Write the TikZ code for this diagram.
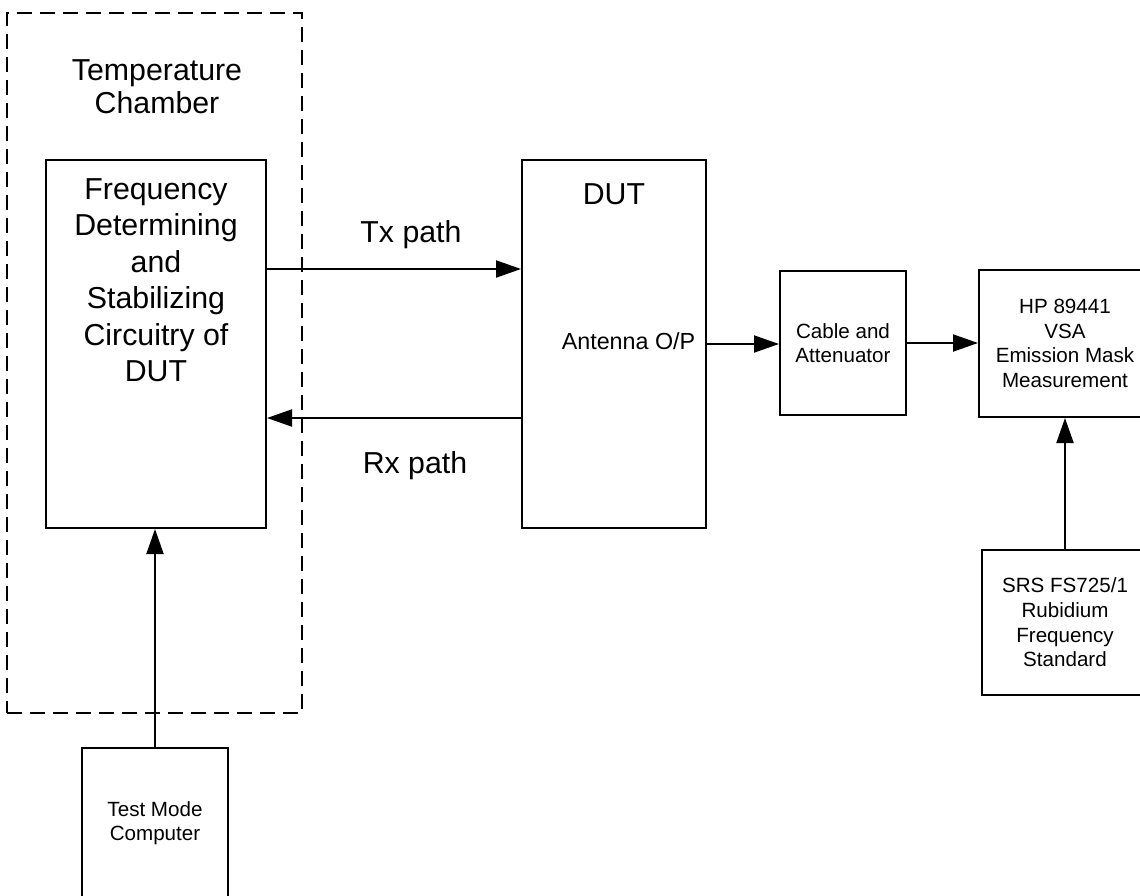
\documentclass[tikz,border=0pt]{standalone}
\usepackage{fontspec}
\setmainfont{Liberation Sans}
\usetikzlibrary{arrows.meta,positioning}

\begin{document}
\begin{tikzpicture}[x=1pt,y=-1pt,
		blk/.style={draw,line width=2pt,rectangle,inner sep=0pt},
		chamberbox/.style={draw,line width=2pt,rectangle,inner sep=0pt,dash pattern=on 15pt off 8pt},
		sig/.style={line width=2pt,-{Triangle[length=25pt,width=17pt]}},
		bigtxt/.style={inner sep=0pt,align=center,font=\fontsize{30.3}{36.5}\selectfont},
		midtxt/.style={inner sep=0pt,align=center,font=\fontsize{23.3}{28}\selectfont},
		smalltxt/.style={inner sep=0pt,align=center,font=\fontsize{20.6}{24.7}\selectfont}]
		\useasboundingbox (0,0) rectangle (1140,895);
		%
		\node[chamberbox,minimum width=295pt,minimum height=700pt] (chamber) at (154.5,363) {};
		\node[bigtxt,anchor=north,font=\fontsize{30.3}{33}\selectfont] (chambertxt) at (157,59) {Temperature\\Chamber};
		\node[blk,minimum width=220pt,minimum height=368pt] (freq) at (156,344) {};
		\node[bigtxt,anchor=north] (freqtxt) at (156,178) {Frequency\\Determining\\and\\Stabilizing\\Circuitry of\\DUT};
		\node[blk,minimum width=184pt,minimum height=368pt] (dut) at (614,344) {};
		\node[bigtxt,anchor=base] (duttxt) at (614,204) {DUT};
		\node[midtxt,anchor=base] (anttxt) at (628.5,349) {Antenna O/P};
		\node[blk,minimum width=126pt,minimum height=144pt,smalltxt] (cable) at (843,343) {Cable and\\Attenuator};
		\node[blk,minimum width=172pt,minimum height=147pt,smalltxt] (hp) at (1065,343.5) {HP 89441\\VSA\\Emission Mask\\Measurement};
		\node[blk,minimum width=166pt,minimum height=145pt,smalltxt] (srs) at (1065,622.5) {SRS FS725/1\\Rubidium\\Frequency\\Standard};
		\node[blk,minimum width=146pt,minimum height=182pt] (test) at (155,839) {};
		\node[smalltxt,anchor=north] (testtxt) at (155,801) {Test Mode\\Computer};
		\node[bigtxt,anchor=base] (txtxt) at (411,242) {Tx path};
		\node[bigtxt,anchor=base] (rxtxt) at (415,473) {Rx path};
		%
		\draw[sig] ([yshift=75pt]freq.east) -- ([yshift=75pt]dut.west);
		\draw[sig] ([yshift=-74pt]dut.west) -- ([yshift=-74pt]freq.east);
		\draw[sig] (dut.east) -- (cable.west |- dut.east);
		\draw[sig] (cable.east) -- (hp.west |- cable.east);
		\draw[sig] (srs.north) -- (hp.south);
		\draw[sig] (test.north) -- (test.north |- freq.south);
	\end{tikzpicture}
\end{document}
